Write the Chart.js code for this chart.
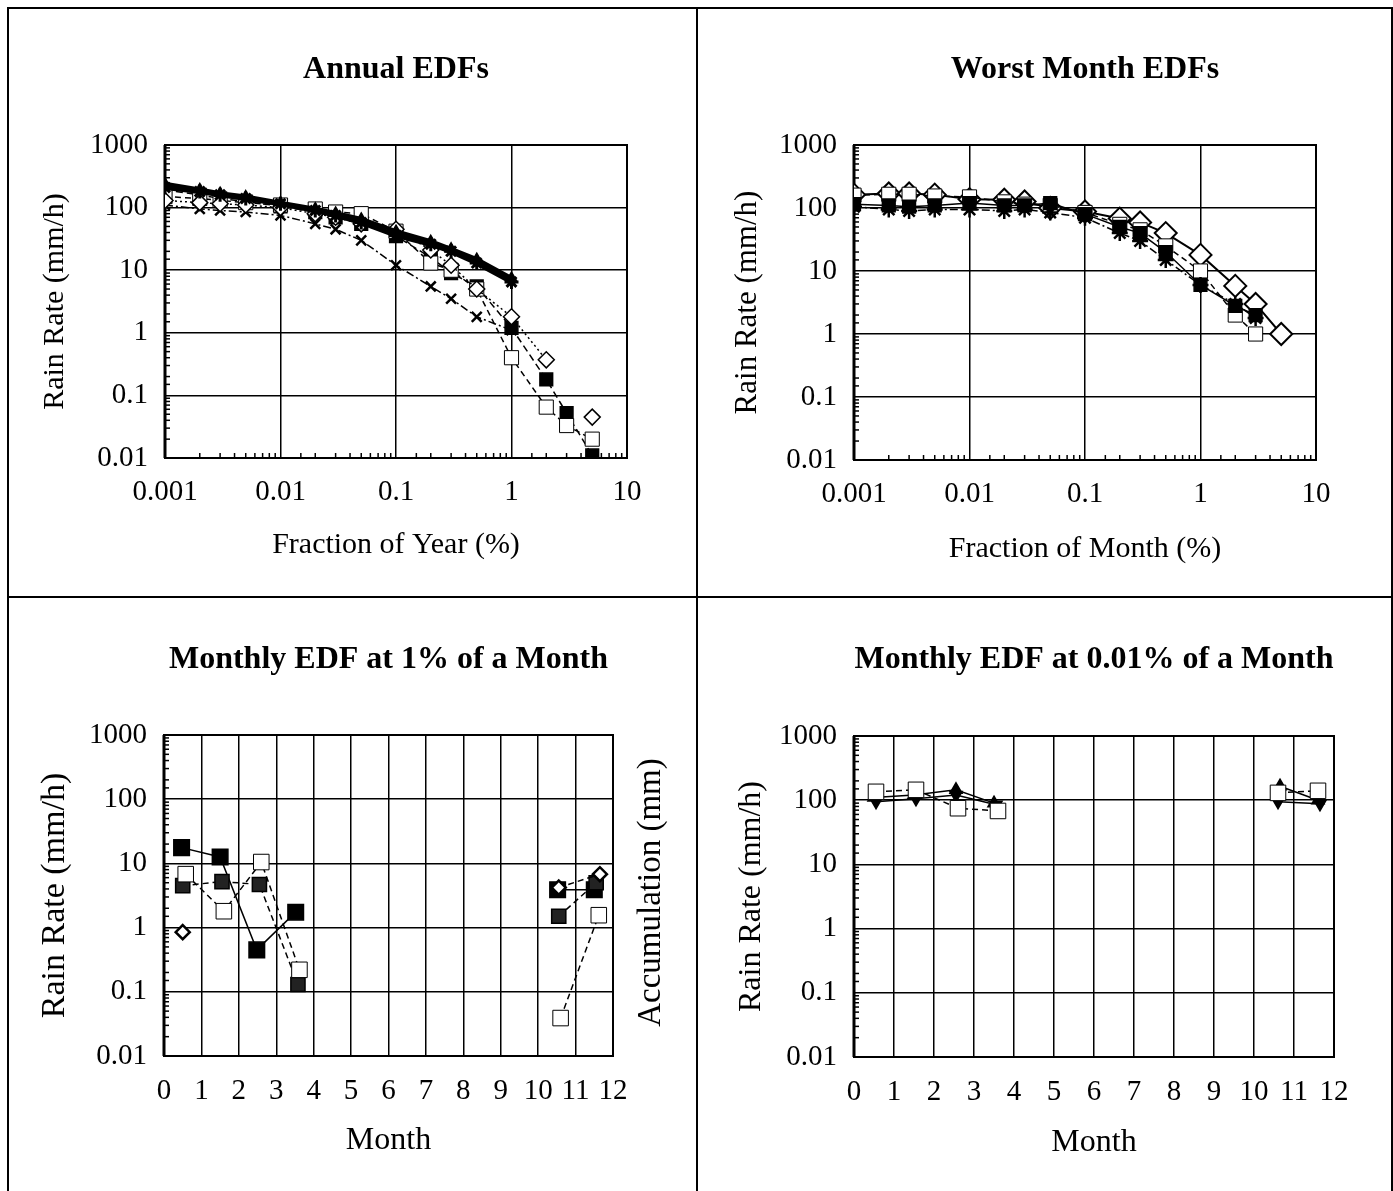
<!DOCTYPE html>
<html>
<head>
<meta charset="utf-8">
<script src="https://cdn.jsdelivr.net/npm/chart.js@4.4.1/dist/chart.umd.min.js"></script>
<style>
body { margin:0; background:#fff; width:1393px; height:1191px; overflow:hidden; position:relative; }
#frame { position:absolute; left:7px; top:7px; width:1382px; height:1200px; border:2px solid #000; }
#vline { position:absolute; left:696px; top:8px; width:2px; height:1183px; background:#000; }
#hline { position:absolute; left:8px; top:596px; width:1383px; height:2px; background:#000; }
canvas { position:absolute; }
</style>
</head>
<body>
<div id="frame"></div>
<div id="vline"></div>
<div id="hline"></div>
<canvas id="annual" width="689" height="589" style="left:8px;top:8px"></canvas>
<canvas id="worst" width="693" height="589" style="left:697px;top:8px"></canvas>
<canvas id="month1" width="689" height="594" style="left:8px;top:597px"></canvas>
<canvas id="month001" width="693" height="594" style="left:697px;top:597px"></canvas>
<script>
// ---- data ----

// Annual EDFs (fraction of year, %)
var annualX = [0.001, 0.002, 0.003, 0.005, 0.01, 0.02, 0.03, 0.05, 0.1, 0.2, 0.3, 0.5, 1, 2, 3, 5];
var annualA = [210, 180, 160, 140, 115, 90, 75, 58, 36, 26, 20, 13, 6.5, null, null, null];
var annualB = [240, 195, 170, 150, 120, 96, 82, 66, 42, 29, 22, 15, 7.5, null, null, null];
var annualC = [130, 120, 115, 110, 100, 80, 70, 55, 45, 21, 12, 5, 1.8, 0.37, null, 0.045];
var annualD = [150, 140, 130, 120, 110, 95, 85, 80, 42, 13, 10, 5, 0.4, 0.065, 0.033, 0.02];
var annualE = [190, 160, 140, 125, 105, 85, 70, 55, 35, 16, 9, 5.5, 1.2, 0.18, 0.052, 0.011];
var annualF = [110, 95, 90, 85, 75, 55, 45, 30, 12, 5.5, 3.5, 1.8, 1.1, null, null, null];

// Worst month EDFs (fraction of month, %)
var worstX = [0.001, 0.002, 0.003, 0.005, 0.01, 0.02, 0.03, 0.05, 0.1, 0.2, 0.3, 0.5, 1, 2, 3, 5];
var worstA = [163, 170, 170, 163, 138, 135, 127, 100, 88, 68, 59, 40, 18, 5.8, 3, 1];
var worstB = [160, 165, 165, 155, 150, 125, 115, 110, 85, 55, 45, 25, 10, 2, 1, null];
var worstC = [115, 110, 105, 110, 120, 110, 110, 120, 80, 50, 40, 20, 6, 2.8, 2, null];
var worstD = [105, 95, 90, 95, 95, 90, 95, 85, 70, 40, 30, 15, 6, 3, 1.8, null];

// Monthly EDF at 1% of a month (null = no data, breaks the line)
var m1XA = [0.47, 1.5, 2.48, 3.52, 7, 10.52, 11.5];
var m1A  = [17.6, 12.6, 0.45, 1.74, null, 3.9, 3.9];
var m1XB = [0.5, 1.55, 2.55, 3.58, 7, 10.55, 11.55];
var m1B  = [4.5, 5.2, 4.7, 0.13, null, 1.5, 5.0];
var m1XC = [0.58, 1.6, 2.6, 3.62, 7, 10.6, 11.62];
var m1C  = [6.8, 1.8, 10.5, 0.22, null, 0.039, 1.56];
var m1XD = [0.5, 7, 10.55, 11.65];
var m1D  = [0.85, null, 4.2, 6.8];

// Monthly EDF at 0.01% of a month
var m2XA = [0.55, 1.55, 2.6, 3.6, 7, 10.6, 11.6];
var m2A  = [135, 145, 75, 68, null, 130, 140];
var m2XB = [0.55, 1.55, 2.55, 3.55, 7, 10.6, 11.65];
var m2B  = [95, 105, 120, 85, null, 95, 88];
var m2XC = [0.5, 1.5, 2.55, 3.5, 7, 10.65, 11.6];
var m2C  = [110, 120, 145, 90, null, 165, 100];

var decadeLabels = { '-3': '0.001', '-2': '0.01', '-1': '0.1', '0': '1', '1': '10', '2': '100', '3': '1000' };
var FONT = "'Liberation Serif', 'Times New Roman', serif";

function decadeOf(v) {
    var e = Math.log10(v);
    var r = Math.round(e);
    return Math.abs(e - r) < 1e-6 ? r : null;
}

function series(xs, ys, style) {
    var pts = [];
    for (var i = 0; i < xs.length; i++) {
        pts.push({ x: xs[i], y: ys[i] });
    }
    return Object.assign({
        data: pts,
        showLine: true,
        spanGaps: false,
        tension: 0,
        borderColor: '#000',
        borderWidth: 1.5,
        pointBorderColor: '#000',
        pointBorderWidth: 1.5,
        pointBackgroundColor: '#fff',
        pointRadius: 8
    }, style);
}

// title above the plot, vertical title on the right, minor ticks and plot frame
var panelPlugin = {
    id: 'panel',
    beforeDatasetsDraw: function (chart) {
        var ctx = chart.ctx, a = chart.chartArea;
        ctx.save();
        ctx.strokeStyle = '#000';
        ctx.lineWidth = 1.5;
        var y = chart.scales.y;
        y.ticks.forEach(function (t) {
            if (decadeOf(t.value) === null) {
                var py = y.getPixelForValue(t.value);
                ctx.beginPath(); ctx.moveTo(a.left, py); ctx.lineTo(a.left + 5, py); ctx.stroke();
            }
        });
        var x = chart.scales.x;
        if (x.type === 'logarithmic') {
            x.ticks.forEach(function (t) {
                if (decadeOf(t.value) === null) {
                    var px = x.getPixelForValue(t.value);
                    ctx.beginPath(); ctx.moveTo(px, a.bottom); ctx.lineTo(px, a.bottom - 5); ctx.stroke();
                }
            });
        }
        ctx.lineWidth = 2;
        ctx.strokeRect(a.left, a.top, a.right - a.left, a.bottom - a.top);
        ctx.lineWidth = 3;
        ctx.beginPath(); ctx.moveTo(a.left, a.top); ctx.lineTo(a.left, a.bottom); ctx.stroke();
        ctx.restore();
    },
    afterDraw: function (chart, args, opts) {
        var ctx = chart.ctx, a = chart.chartArea;
        ctx.save();
        ctx.fillStyle = '#000';
        ctx.textAlign = 'center';
        ctx.textBaseline = 'middle';
        ctx.font = 'bold 32px ' + FONT;
        ctx.fillText(opts.title, (a.left + a.right) / 2, opts.titleY);
        if (opts.right) {
            ctx.font = '33px ' + FONT;
            ctx.translate(opts.rightX, (a.top + a.bottom) / 2 - 3);
            ctx.rotate(-Math.PI / 2);
            ctx.fillText(opts.right, 0, 0);
        }
        ctx.restore();
    }
};

function yScale(width, titleSize, titlePad) {
    return {
        type: 'logarithmic',
        min: 0.01,
        max: 1000,
        afterFit: function (s) { s.width = width; },
        grid: {
            color: function (c) { return decadeOf(c.tick.value) !== null ? '#000' : 'rgba(0,0,0,0)'; },
            lineWidth: 1.5,
            drawTicks: false
        },
        border: { display: false },
        ticks: {
            autoSkip: false,
            padding: 17,
            color: '#000',
            font: { family: FONT, size: 29 },
            callback: function (v) { var d = decadeOf(v); return d === null ? '' : decadeLabels[d]; }
        },
        title: { display: true, text: 'Rain Rate (mm/h)', color: '#000', font: { family: FONT, size: titleSize }, padding: { top: titlePad, bottom: 0 } }
    };
}

function xLogScale(height, label, titlePad) {
    return {
        type: 'logarithmic',
        min: 0.001,
        max: 10,
        afterFit: function (s) { s.height = height; },
        grid: {
            color: function (c) { return decadeOf(c.tick.value) !== null ? '#000' : 'rgba(0,0,0,0)'; },
            lineWidth: 1.5,
            drawTicks: false
        },
        border: { display: false },
        ticks: {
            autoSkip: false,
            maxRotation: 0,
            padding: 17,
            color: '#000',
            font: { family: FONT, size: 29 },
            callback: function (v) { var d = decadeOf(v); return d === null ? '' : decadeLabels[d]; }
        },
        title: { display: true, text: label, color: '#000', font: { family: FONT, size: 30 }, padding: { top: 0, bottom: titlePad } }
    };
}

function xMonthScale(height, titlePad) {
    return {
        type: 'linear',
        min: 0,
        max: 12,
        afterFit: function (s) { s.height = height; },
        grid: { color: '#000', lineWidth: 1.5, drawTicks: false },
        border: { display: false },
        ticks: {
            stepSize: 1,
            autoSkip: false,
            maxRotation: 0,
            padding: 18,
            color: '#000',
            font: { family: FONT, size: 29 }
        },
        title: { display: true, text: 'Month', color: '#000', font: { family: FONT, size: 32 }, padding: { top: 0, bottom: titlePad } }
    };
}

function makeChart(id, datasets, padding, xs, ys, panelOpts) {
    return new Chart(document.getElementById(id), {
        type: 'scatter',
        data: { datasets: datasets },
        options: {
            responsive: false,
            animation: false,
            layout: { padding: padding },
            scales: { x: xs, y: ys },
            plugins: {
                legend: { display: false },
                tooltip: { enabled: false },
                panel: panelOpts
            }
        },
        plugins: [panelPlugin]
    });
}

// Annual EDFs
makeChart('annual', [
    series(annualX, annualB, { borderWidth: 4, pointStyle: 'triangle', pointBackgroundColor: '#000', pointRadius: 6 }),
    series(annualX, annualA, { borderWidth: 5, pointStyle: 'star', pointBorderWidth: 3, pointRadius: 7 }),
    series(annualX, annualC, { borderDash: [2, 3], pointStyle: 'rectRot', pointRadius: 8 }),
    series(annualX, annualD, { borderDash: [6, 4], pointStyle: 'rect', pointRadius: 10, pointBorderWidth: 1 }),
    series(annualX, annualE, { borderDash: [7, 4], pointStyle: 'rect', pointBackgroundColor: '#000', pointRadius: 9 }),
    series(annualX, annualF, { borderDash: [8, 3, 2, 3], pointStyle: 'crossRot', pointBorderWidth: 2.5, pointRadius: 7 })
], { left: 0, right: 70, top: 137, bottom: 0 },
    xLogScale(139, 'Fraction of Year (%)', 34), yScale(157, 30, 29),
    { title: 'Annual EDFs', titleY: 62 });

// Worst Month EDFs
makeChart('worst', [
    series(worstX, worstD, { borderDash: [8, 3, 2, 3], pointStyle: 'star', pointBorderWidth: 2.5, pointRadius: 8 }),
    series(worstX, worstC, { pointStyle: 'rect', pointBackgroundColor: '#000', pointRadius: 9 }),
    series(worstX, worstB, { borderDash: [6, 4], pointStyle: 'rect', pointRadius: 10, pointBorderWidth: 1 }),
    series(worstX, worstA, { borderWidth: 2, pointStyle: 'rectRot', pointRadius: 11, pointBorderWidth: 2 })
], { left: 0, right: 74, top: 137, bottom: 0 },
    xLogScale(137, 'Fraction of Month (%)', 30), yScale(157, 31, 32),
    { title: 'Worst Month EDFs', titleY: 62 });

// Monthly EDF at 1% of a month
makeChart('month1', [
    series(m1XC, m1C, { borderDash: [6, 4], pointStyle: 'rect', pointRadius: 11, pointBorderWidth: 1 }),
    series(m1XD, m1D, { borderDash: [6, 4], pointStyle: 'rectRot', pointRadius: 7, pointBorderWidth: 2.5 }),
    series(m1XB, m1B, { borderDash: [6, 4], pointStyle: 'rect', pointBackgroundColor: '#222', pointRadius: 10 }),
    series(m1XA, m1A, { pointStyle: 'rect', pointBackgroundColor: '#000', pointRadius: 11 })
], { left: 0, right: 84, top: 138, bottom: 0 },
    xMonthScale(135, 31), yScale(156, 34, 27),
    { title: 'Monthly EDF at 1% of a Month', titleY: 63, right: 'Accumulation (mm)', rightX: 643 });

// Monthly EDF at 0.01% of a month
makeChart('month001', [
    series(m2XA, m2A, { borderDash: [6, 4], pointStyle: 'rect', pointRadius: 11, pointBorderWidth: 1 }),
    series(m2XB, m2B, { pointStyle: 'triangle', rotation: 180, pointBackgroundColor: '#000', pointRadius: 7 }),
    series(m2XC, m2C, { pointStyle: 'triangle', pointBackgroundColor: '#000', pointRadius: 7 })
], { left: 0, right: 56, top: 139, bottom: 0 },
    xMonthScale(134, 29), yScale(157, 32, 35),
    { title: 'Monthly EDF at 0.01% of a Month', titleY: 63 });
</script>
</body>
</html>
